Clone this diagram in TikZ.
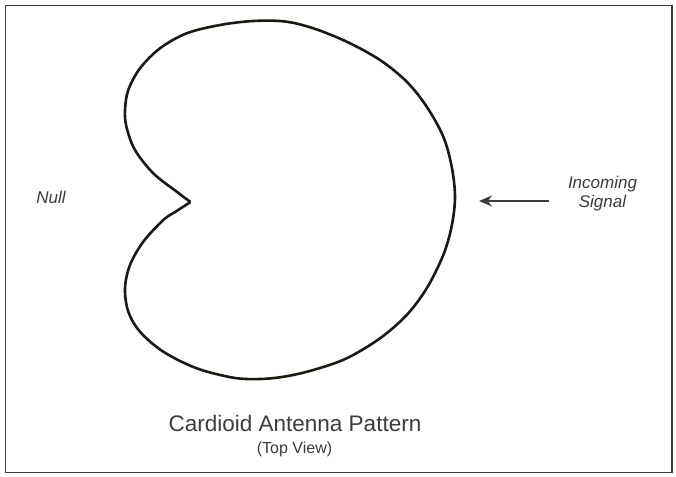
\documentclass[tikz,border=0pt]{standalone}
\usepackage{fontspec}
\setmainfont{Liberation Sans}
\usetikzlibrary{arrows.meta}
\definecolor{curvecol}{HTML}{1A1A12}
\definecolor{textcol}{HTML}{3C3C3C}
\definecolor{framecol}{HTML}{3A3A32}
\tikzset{
  labeltext/.style={text=textcol, font=\fontsize{17}{18.5}\selectfont\itshape, inner sep=0pt, align=center},
  titletext/.style={text=textcol, inner sep=0pt},
  pattern/.style={draw=curvecol, line width=2.6pt, line join=round},
  sigarrow/.style={draw=textcol, line width=1.4pt, -{Stealth[length=13pt,width=11pt]}}
}
\begin{document}
\begin{tikzpicture}[x=1pt,y=-1pt]
\useasboundingbox (0,0) rectangle (676,476);
\fill[white] (0,0) rectangle (676,476);
\draw[framecol, line width=1.6pt] (5.5,5.5) rectangle (672,472.5);
% cardioid pattern
\draw[pattern] plot[smooth, tension=0.55] coordinates {
 (190.5,202) (176.7,191.7) (153.3,173.3) (135,150) (126.5,127) (125,110) (128.3,90)
 (140,68.3) (160,48.3) (186.7,33.3) (220,25) (253.3,21) (285,21.5) (313.3,28.3)
 (346.7,41.7) (380,60) (406.7,81.7) (426.7,106.7) (443.3,136.7) (451.7,166.7)
 (455,197) (451.7,226) (443.3,255) (426.7,288.3) (406.7,315) (380,338.3)
 (346.7,358.3) (313.3,370) (285,376.5) (260,379) (233.3,377.7) (196.7,368.3)
 (163.3,351.7) (140,331.7) (128.3,311.7) (125,288.3) (130,265) (143.3,241.7)
 (163.3,220) (176.7,211) (190.5,202)};
% labels
\node[labeltext, anchor=base] (null) at (51,203.5) {Null};
\node[labeltext, anchor=base] (incoming) at (602.5,188) {Incoming};
\node[labeltext, anchor=base] (signal) at (602.5,207) {Signal};
\coordinate (arrowtail) at (549,201);
\coordinate (arrowtip) at (479,201);
\draw[sigarrow] (arrowtail) -- (arrowtip);
\node[titletext, font=\fontsize{22.5}{24}\selectfont, anchor=base] (title) at (295,431) {Cardioid Antenna Pattern};
\node[titletext, font=\fontsize{16}{18}\selectfont, anchor=base] (subtitle) at (294.5,453) {(Top View)};
\end{tikzpicture}
\end{document}
